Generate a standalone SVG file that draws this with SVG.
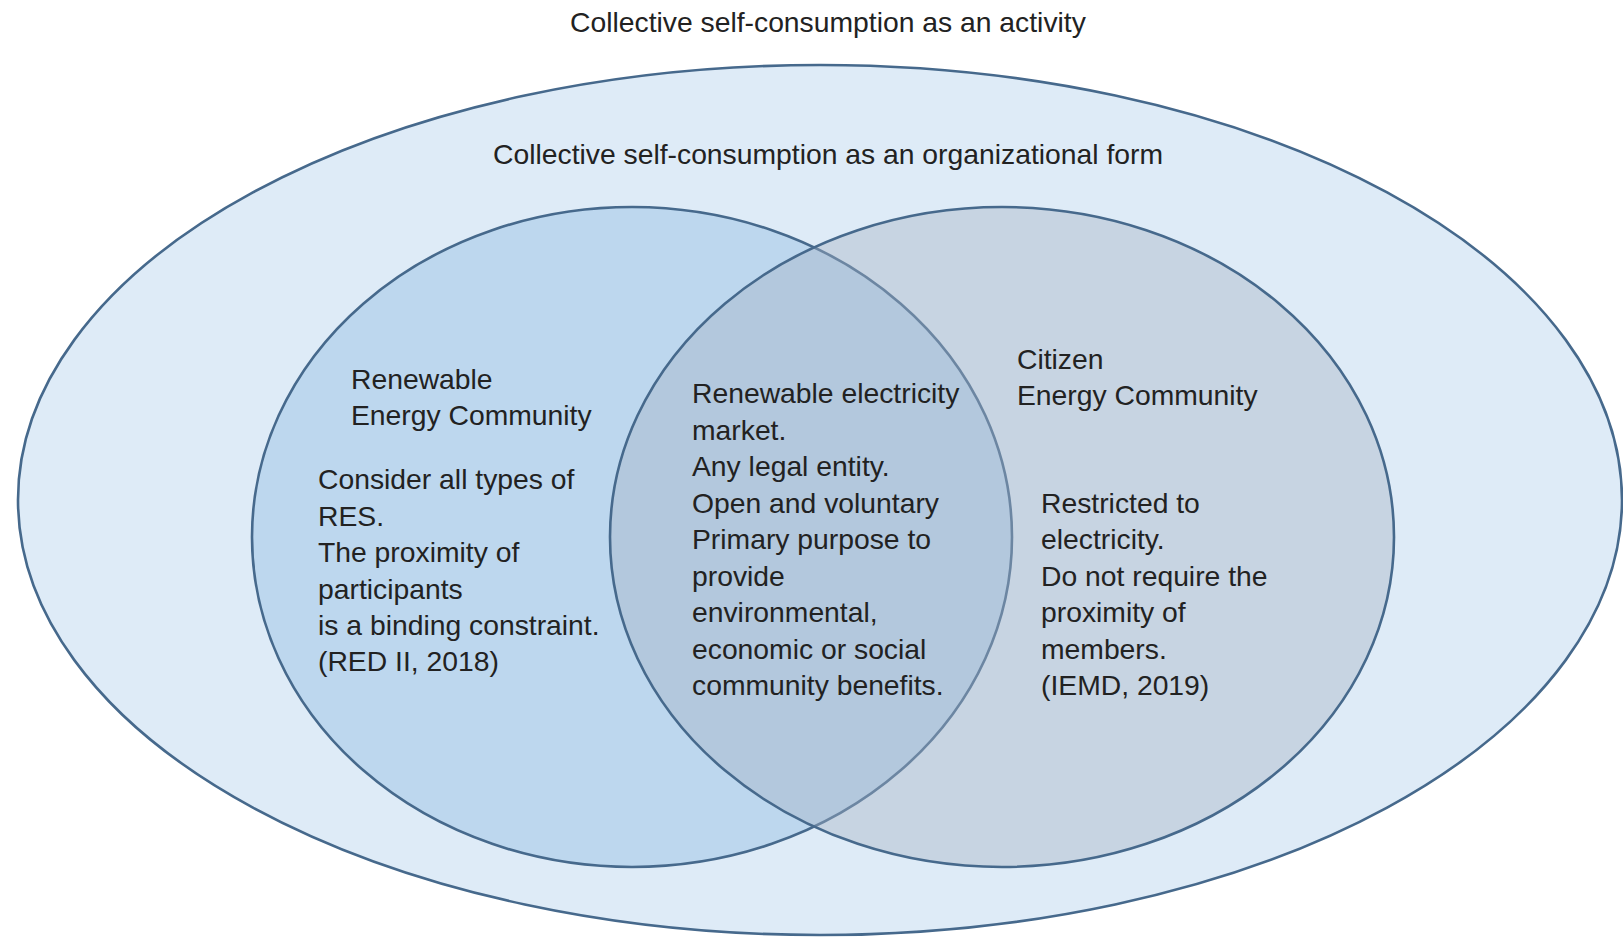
<svg xmlns="http://www.w3.org/2000/svg" width="1623" height="937" viewBox="0 0 1623 937">
  <style>
    .t { font-family: "Liberation Sans", Arial, sans-serif; font-size: 28.3px; fill: #222222; }
    .ring { stroke: #46698C; stroke-width: 2.6; }
  </style>
  <rect width="1623" height="937" fill="#FFFFFF"/>
  <g id="outer-activity">
    <ellipse class="ring" cx="820" cy="500" rx="802" ry="435" fill="#DEEBF7"/>
    <text class="t" x="570" y="32">Collective self-consumption as an activity</text>
    <text class="t" x="493" y="164">Collective self-consumption as an organizational form</text>
  </g>
  <g id="rec">
    <ellipse class="ring" cx="632" cy="537" rx="380" ry="330" fill="#BDD7EE"/>
  </g>
  <g id="cec">
    <ellipse class="ring" cx="1002" cy="537" rx="392" ry="330" fill="#A5B2C4" fill-opacity="0.4"/>
  </g>
  <g id="rec-text">
    <text class="t" x="351" y="389">Renewable</text>
    <text class="t" x="351" y="425">Energy Community</text>
    <text class="t" x="318" y="489">Consider all types of</text>
    <text class="t" x="318" y="525.5">RES.</text>
    <text class="t" x="318" y="562">The proximity of</text>
    <text class="t" x="318" y="598.5">participants</text>
    <text class="t" x="318" y="635">is a binding constraint.</text>
    <text class="t" x="318" y="671">(RED II, 2018)</text>
  </g>
  <g id="shared-text">
    <text class="t" x="692" y="403">Renewable electricity</text>
    <text class="t" x="692" y="439.5">market.</text>
    <text class="t" x="692" y="476">Any legal entity.</text>
    <text class="t" x="692" y="512.5">Open and voluntary</text>
    <text class="t" x="692" y="549">Primary purpose to</text>
    <text class="t" x="692" y="585.5">provide</text>
    <text class="t" x="692" y="622">environmental,</text>
    <text class="t" x="692" y="658.5">economic or social</text>
    <text class="t" x="692" y="695">community benefits.</text>
  </g>
  <g id="cec-text">
    <text class="t" x="1017" y="368.5">Citizen</text>
    <text class="t" x="1017" y="405">Energy Community</text>
    <text class="t" x="1041" y="512.5">Restricted to</text>
    <text class="t" x="1041" y="549">electricity.</text>
    <text class="t" x="1041" y="585.5">Do not require the</text>
    <text class="t" x="1041" y="622">proximity of</text>
    <text class="t" x="1041" y="658.5">members.</text>
    <text class="t" x="1041" y="695">(IEMD, 2019)</text>
  </g>
  <g id="connectors"/>
</svg>
